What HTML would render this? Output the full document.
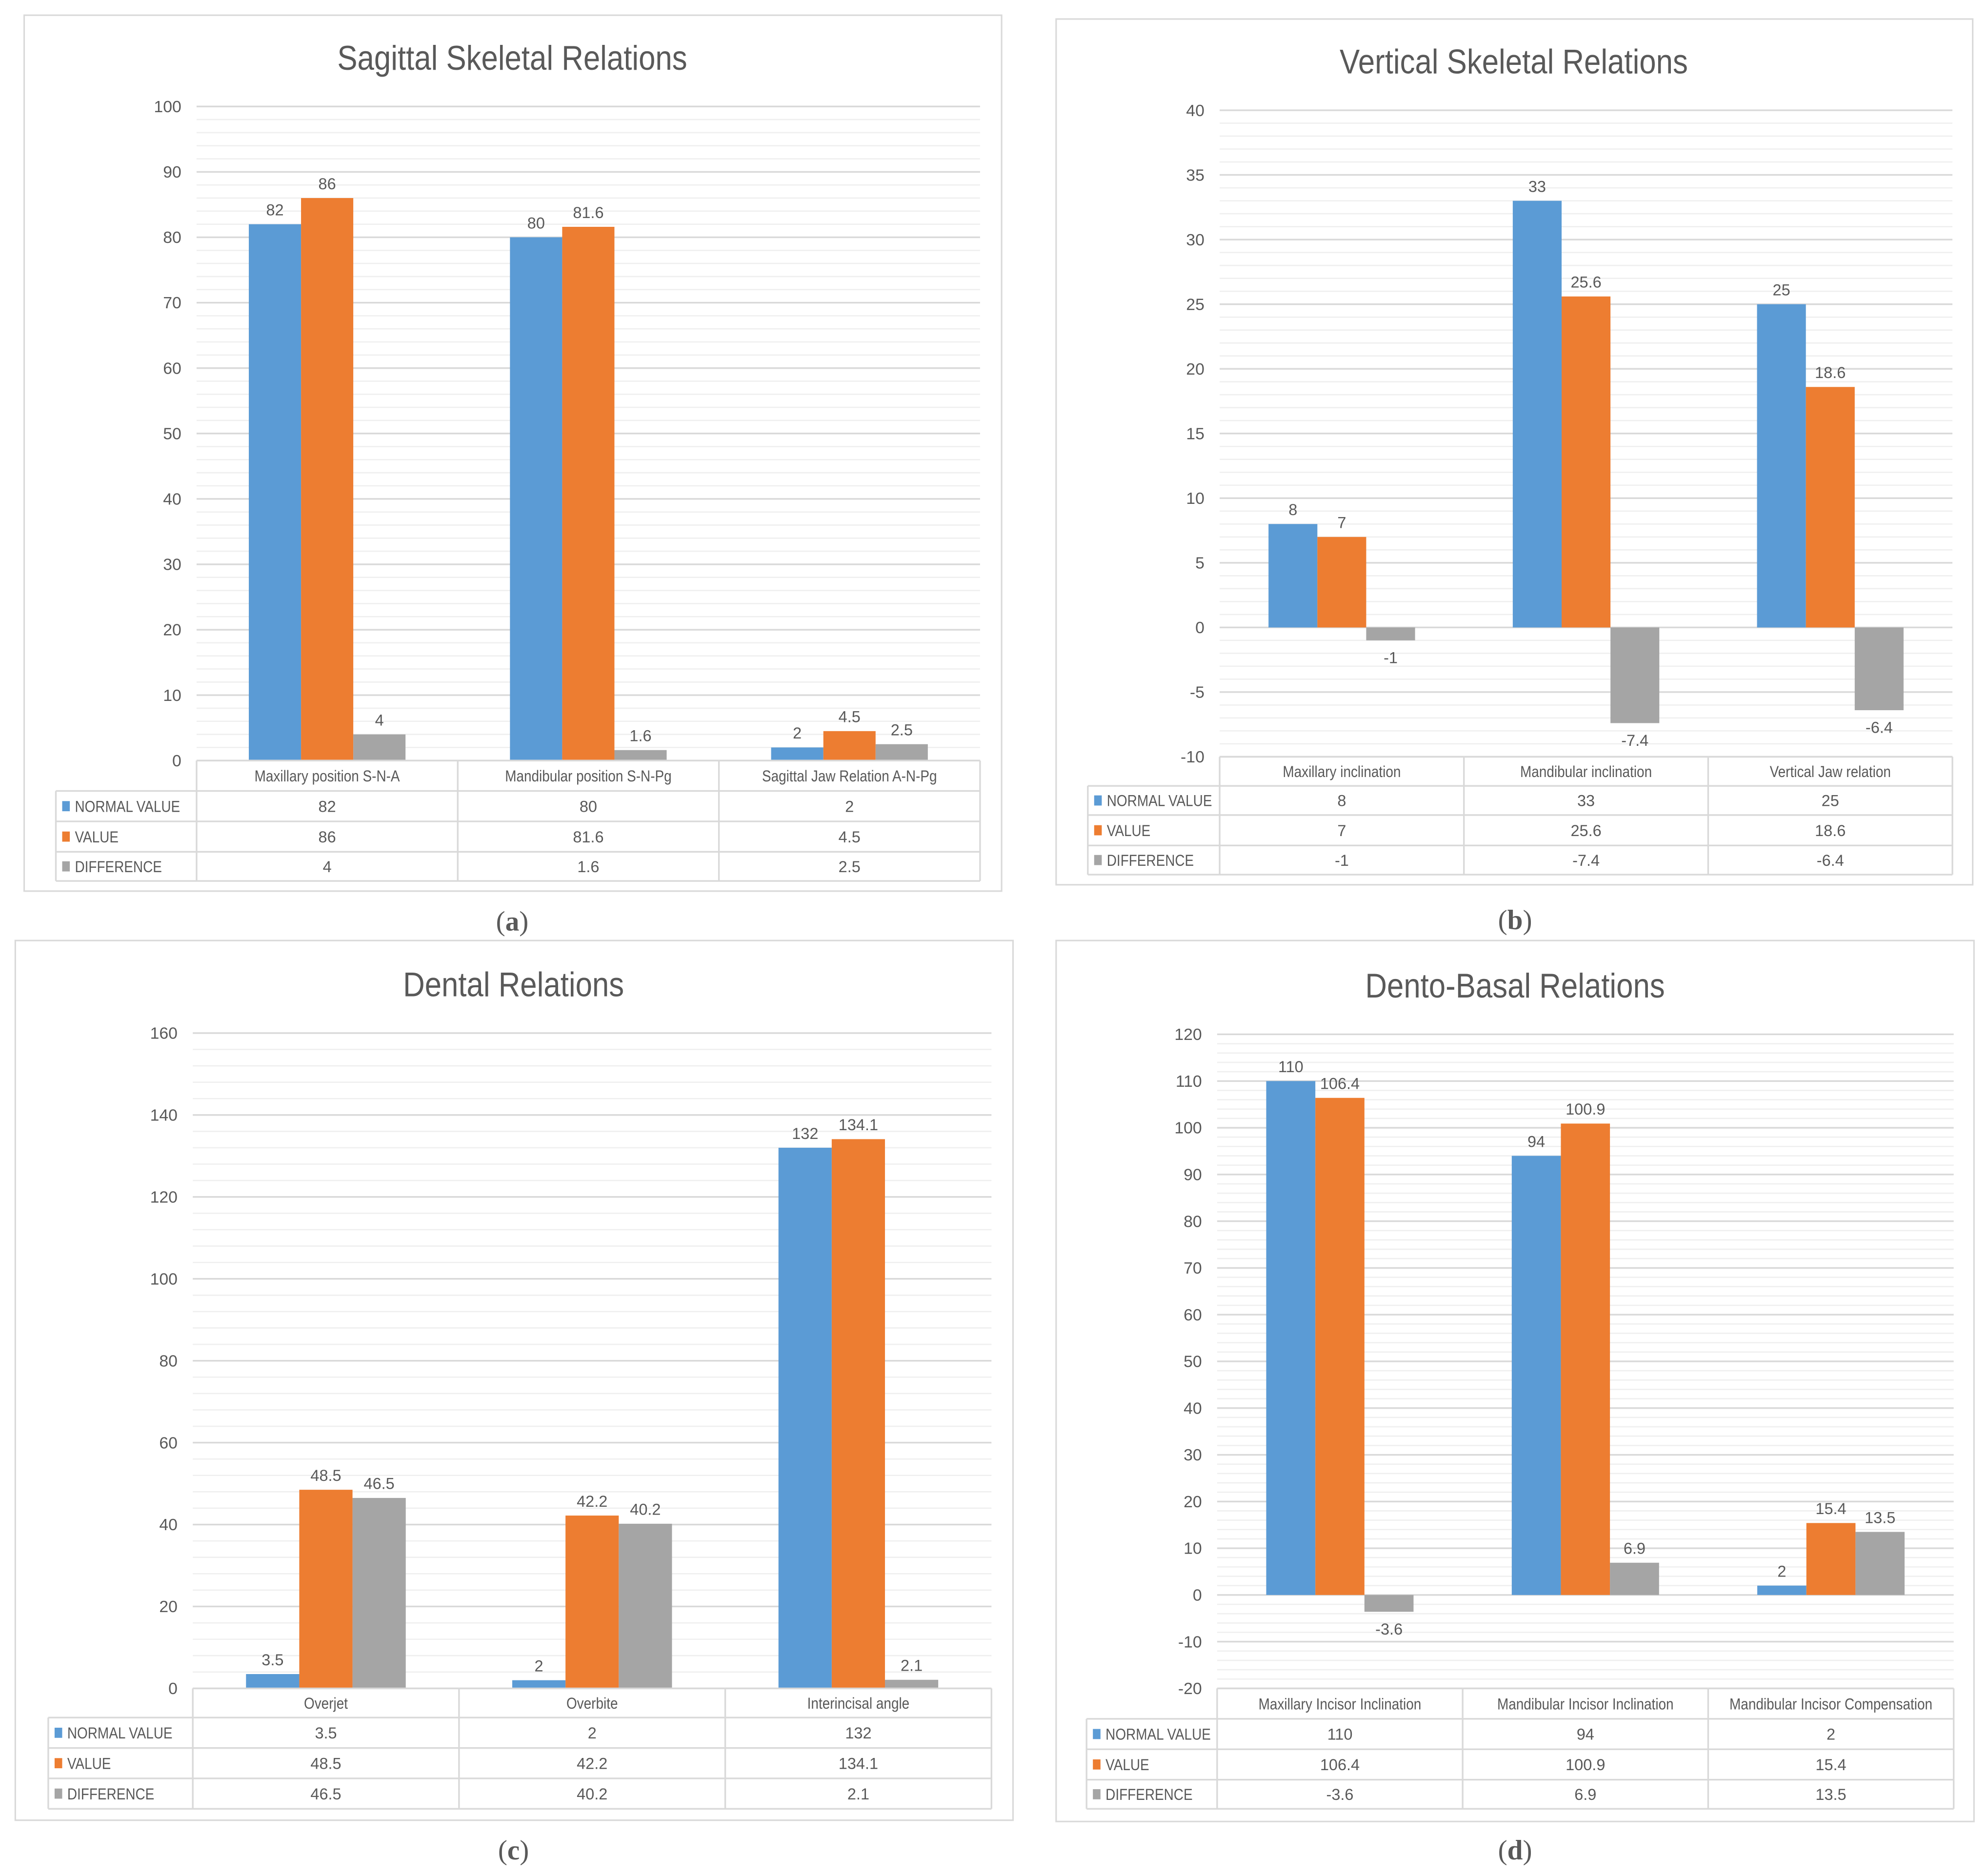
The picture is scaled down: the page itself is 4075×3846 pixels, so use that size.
<!DOCTYPE html>
<html><head><meta charset="utf-8">
<style>
html,body{margin:0;padding:0;background:#fff;width:4075px;height:3846px;overflow:hidden}
svg{display:block}
text{font-family:"Liberation Sans Narrow","Liberation Sans",sans-serif;fill:#595959}
</style></head>
<body>
<svg id="fig" width="4075" height="3846" viewBox="0 0 1568 1480" xmlns="http://www.w3.org/2000/svg"></svg>
<script>
// ---- Panel (a) data ----
const catsA = ["Maxillary position S-N-A","Mandibular position S-N-Pg","Sagittal Jaw Relation A-N-Pg"];
const normalA = [82,80,2];
const valueA = [86,81.6,4.5];
const diffA = [4,1.6,2.5];
const ticksA = [0,10,20,30,40,50,60,70,80,90,100];
// ---- Panel (b) data ----
const catsB = ["Maxillary inclination","Mandibular inclination","Vertical Jaw relation"];
const normalB = [8,33,25];
const valueB = [7,25.6,18.6];
const diffB = [-1,-7.4,-6.4];
const ticksB = [-10,-5,0,5,10,15,20,25,30,35,40];
// ---- Panel (c) data ----
const catsC = ["Overjet","Overbite","Interincisal angle"];
const normalC = [3.5,2,132];
const valueC = [48.5,42.2,134.1];
const diffC = [46.5,40.2,2.1];
const ticksC = [0,20,40,60,80,100,120,140,160];
// ---- Panel (d) data ----
const catsD = ["Maxillary Incisor Inclination","Mandibular Incisor Inclination","Mandibular Incisor Compensation"];
const normalD = [110,94,2];
const valueD = [106.4,100.9,15.4];
const diffD = [-3.6,6.9,13.5];
const ticksD = [-20,-10,0,10,20,30,40,50,60,70,80,90,100,110,120];

const seriesNames = ["NORMAL VALUE","VALUE","DIFFERENCE"];
const colors = ["#5B9BD5","#ED7D31","#A5A5A5"];
const NS = "http://www.w3.org/2000/svg";
const svg = document.getElementById("fig");

function el(tag, attrs, parent, txt){
  const e = document.createElementNS(NS, tag);
  for (const k in attrs) e.setAttribute(k, attrs[k]);
  if (txt !== undefined) e.textContent = txt;
  (parent || svg).appendChild(e);
  return e;
}
function squeeze(t, factor){
  const w = t.getComputedTextLength();
  if (w > 0) { t.setAttribute("textLength", w*factor); t.setAttribute("lengthAdjust","spacingAndGlyphs"); }
}

function panel(cfg){
  const g = el("g", {});
  
  
  const box = el("rect", {x:cfg.bx, y:cfg.by, width:cfg.bw, height:cfg.bh, fill:"#fff", stroke:"#D9D9D9", "stroke-width":1.2}, g);
  
  
  const t = el("text", {x:cfg.tx, y:cfg.ty, "text-anchor":"middle", "font-size":27, fill:"#595959"}, g, cfg.title);
  
  
  squeeze(t, 0.88);
  const ticks = cfg.ticks;
  const vmin = ticks[0], vmax = ticks[ticks.length-1];
  const y = v => cfg.y0 + (cfg.y1 - cfg.y0) * (v - vmin) / (vmax - vmin);
  const step = ticks[1]-ticks[0];
  for (let i=0;i<ticks.length-1;i++){
    for (let k=1;k<5;k++){
      const v = ticks[i] + step*k/5;
      const ln = el("line", {x1:cfg.px0, x2:cfg.px1, y1:y(v), y2:y(v), stroke:"#EFEFEF", "stroke-width":1}, g);
      
      
    }
  }
  ticks.forEach(v=>{
    const ln = el("line", {x1:cfg.px0, x2:cfg.px1, y1:y(v), y2:y(v), stroke:"#D9D9D9", "stroke-width":1.3}, g);
    
    
    const tl = el("text", {x:cfg.lx, y:y(v)+4.5, "text-anchor":"end", "font-size":13}, g, String(v));
    
    
  });
  const n = cfg.cats.length;
  const cw = (cfg.px1 - cfg.px0)/n;
  const bw = cw/5;
  const series = [cfg.s0, cfg.s1, cfg.s2];
  for (let c=0;c<n;c++){
    for (let s=0;s<3;s++){
      const v = series[s][c];
      const x = cfg.px0 + c*cw + bw + s*bw;
      const top = Math.min(y(v), y(0)), h = Math.abs(y(v)-y(0));
      const r = el("rect", {x:x, y:top, width:bw, height:h, fill:colors[s]}, g);
      
      
      const ly = v >= 0 ? y(v) - 7 : y(v) + 18;
      const dl = el("text", {x:x+bw/2, y:ly, "text-anchor":"middle", "font-size":12.5, fill:"#404040"}, g, String(v));
      
      
    }
  }
  const rows = cfg.rows;
  const tb = el("g", {}, g);
  
  
  const st = {stroke:"#D9D9D9","stroke-width":1.3};
  el("line", Object.assign({x1:cfg.px0, x2:cfg.px1, y1:rows[0], y2:rows[0]}, st), tb);
  for (let i=1;i<rows.length;i++) el("line", Object.assign({x1:cfg.legx, x2:cfg.px1, y1:rows[i], y2:rows[i]}, st), tb);
  el("line", Object.assign({x1:cfg.legx, x2:cfg.legx, y1:rows[1], y2:rows[4]}, st), tb);
  for (let c=0;c<=n;c++){
    const x = cfg.px0 + c*cw;
    el("line", Object.assign({x1:x, x2:x, y1:rows[0], y2:rows[4]}, st), tb);
  }
  for (let c=0;c<n;c++){
    const cx = cfg.px0 + c*cw + cw/2;
    const ct = el("text", {x:cx, y:(rows[0]+rows[1])/2+4.5, "text-anchor":"middle", "font-size":12.5}, tb, cfg.cats[c]);
    
    
    squeeze(ct, 0.86);
    for (let s=0;s<3;s++){
      const vt = el("text", {x:cx, y:(rows[s+1]+rows[s+2])/2+4.5, "text-anchor":"middle", "font-size":12.5}, tb, String(series[s][c]));
      
      
    }
  }
  for (let s=0;s<3;s++){
    const my = (rows[s+1]+rows[s+2])/2;
    const lk = el("rect", {x:cfg.legx+5, y:my-4, width:6, height:8, fill:colors[s]}, tb);
    
    
    const lt = el("text", {x:cfg.legx+15, y:my+4.5, "font-size":12.5}, tb, seriesNames[s]);
    
    
    squeeze(lt, 0.86);
  }
  const cap = el("text", {x:cfg.capx, y:cfg.capy, "text-anchor":"middle", "font-size":22, fill:"#000", style:"font-family:'Liberation Serif',serif"}, svg);
  cap.innerHTML = '(<tspan font-weight="bold">' + cfg.cap + '</tspan>)';
  
  
}

panel({name:"chart-a", bx:19, by:12, bw:771, bh:691, title:"Sagittal Skeletal Relations", tx:404, ty:55,
  ticks:ticksA, y0:600, y1:84, px0:155, px1:773, lx:143, legx:44,
  cats:catsA, s0:normalA, s1:valueA, s2:diffA, rows:[600,624,648,672,695], cap:"a", capx:404, capy:734});
panel({name:"chart-b", bx:833, by:15, bw:723, bh:683, title:"Vertical Skeletal Relations", tx:1194, ty:58,
  ticks:ticksB, y0:597, y1:87, px0:962, px1:1540, lx:950, legx:858,
  cats:catsB, s0:normalB, s1:valueB, s2:diffB, rows:[597,620,643,667,690], cap:"b", capx:1195, capy:733});
panel({name:"chart-c", bx:12, by:742, bw:787, bh:694, title:"Dental Relations", tx:405, ty:786,
  ticks:ticksC, y0:1332, y1:815, px0:152, px1:782, lx:140, legx:38,
  cats:catsC, s0:normalC, s1:valueC, s2:diffC, rows:[1332,1355,1379,1403,1427], cap:"c", capx:405, capy:1467});
panel({name:"chart-d", bx:833, by:742, bw:724, bh:695, title:"Dento-Basal Relations", tx:1195, ty:787,
  ticks:ticksD, y0:1332, y1:816, px0:960, px1:1541, lx:948, legx:857,
  cats:catsD, s0:normalD, s1:valueD, s2:diffD, rows:[1332,1356,1380,1404,1427], cap:"d", capx:1195, capy:1467});
</script>
</body></html>
